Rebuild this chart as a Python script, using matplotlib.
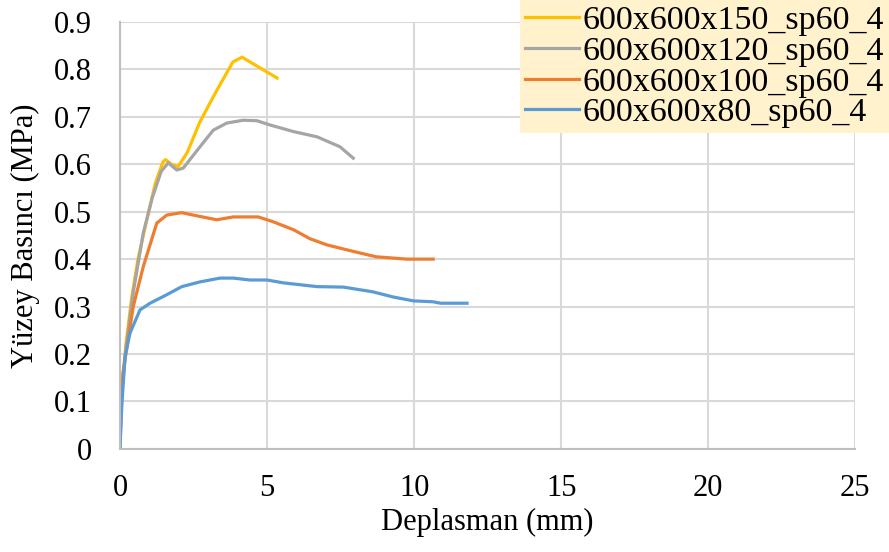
import matplotlib.pyplot as plt

# 600x600x150_sp60_4
x150 = [0, 0.05, 0.2, 0.4, 0.61, 0.9, 1.2, 1.46, 1.55, 1.75, 1.97, 2.28, 2.72, 3.3, 3.84, 4.15, 5.34]
y150 = [0, 0.12, 0.22, 0.32, 0.40, 0.48, 0.56, 0.605, 0.61, 0.60, 0.595, 0.624, 0.69, 0.757, 0.816, 0.826, 0.782]

# 600x600x120_sp60_4
x120 = [0, 0.05, 0.2, 0.45, 0.79, 1.1, 1.4, 1.64, 1.93, 2.15, 2.72, 3.17, 3.63, 4.19, 4.65, 5.1, 5.9, 6.7, 7.48, 7.93]
y120 = [0, 0.11, 0.21, 0.33, 0.455, 0.53, 0.585, 0.603, 0.588, 0.592, 0.637, 0.672, 0.687, 0.693, 0.692, 0.683, 0.669, 0.658, 0.637, 0.613]

# 600x600x100_sp60_4
x100 = [0, 0.1, 0.45, 0.79, 1.25, 1.59, 2.1, 2.72, 3.29, 3.85, 4.7, 5.2, 5.9, 6.46, 7.04, 7.82, 8.7, 9.76, 10.65]
y100 = [0.046, 0.16, 0.30, 0.384, 0.476, 0.493, 0.498, 0.49, 0.483, 0.489, 0.489, 0.479, 0.462, 0.443, 0.43, 0.418, 0.405, 0.40, 0.40]

# 600x600x80_sp60_4
x80 = [0, 0.06, 0.17, 0.34, 0.68, 1.02, 1.59, 2.1, 2.72, 3.4, 3.85, 4.42, 5.0, 5.55, 6.7, 7.6, 8.6, 9.3, 9.97, 10.65, 10.9, 11.8]
y80 = [0.004, 0.09, 0.194, 0.244, 0.293, 0.307, 0.325, 0.342, 0.352, 0.36, 0.36, 0.356, 0.356, 0.35, 0.342, 0.341, 0.331, 0.32, 0.312, 0.31, 0.307, 0.307]

plt.rcParams['font.family'] = ['Liberation Serif', 'DejaVu Serif']

fig = plt.figure(figsize=(8.89, 5.52), dpi=100)
ax = fig.add_axes([0.135, 0.187, 0.827, 0.773])

ax.plot(x150, y150, color='#FFC000', lw=2.3, label='600x600x150_sp60_4')
ax.plot(x120, y120, color='#A5A5A5', lw=2.3, label='600x600x120_sp60_4')
ax.plot(x100, y100, color='#ED7D31', lw=2.3, label='600x600x100_sp60_4')
ax.plot(x80, y80, color='#5B9BD5', lw=2.3, label='600x600x80_sp60_4')

ax.set_xlim(0, 25)
ax.set_ylim(0, 0.9)
ax.set_xticks([0, 5, 10, 15, 20, 25])
ax.set_yticks([0, 0.1, 0.2, 0.3, 0.4, 0.5, 0.6, 0.7, 0.8, 0.9])
ax.set_yticklabels(['0', '0.1', '0.2', '0.3', '0.4', '0.5', '0.6', '0.7', '0.8', '0.9'])
ax.tick_params(length=0, labelsize=22)
ax.tick_params(axis='x', pad=18)
ax.tick_params(axis='y', pad=20)
ax.grid(True, color='#D9D9D9', lw=1.5)
ax.set_axisbelow(True)
for s in ['top', 'right']:
    ax.spines[s].set_visible(False)
for s in ['left', 'bottom']:
    ax.spines[s].set_color('#BFBFBF')
    ax.spines[s].set_linewidth(1.5)

ax.set_xlabel('Deplasman (mm)', fontsize=22, labelpad=4)
ax.set_ylabel('Yüzey Basıncı (MPa)', fontsize=22, labelpad=10)

leg = fig.legend(loc='upper right', bbox_to_anchor=(1.0, 1.0), borderaxespad=0,
                 fontsize=24.5, frameon=True, fancybox=False, handlelength=1.6,
                 handletextpad=0.1, labelspacing=0.0, borderpad=0.15)
leg.get_frame().set_facecolor('#FFF2CC')
leg.get_frame().set_edgecolor('none')
leg.get_frame().set_alpha(1)

plt.savefig('out.png', dpi=100)
